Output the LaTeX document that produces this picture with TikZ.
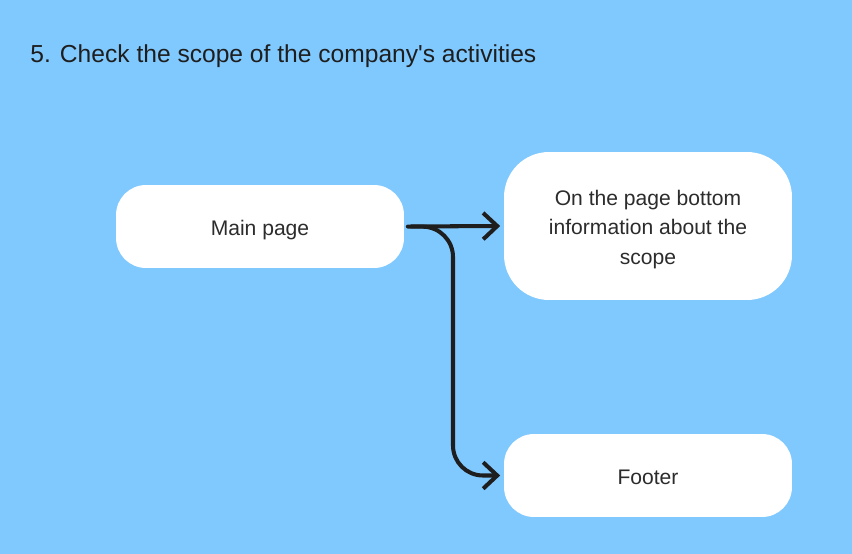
\documentclass[tikz,border=0pt]{standalone}
\usepackage{fontspec}
\setmainfont{Liberation Sans}
\usetikzlibrary{arrows.meta}
\definecolor{skycolor}{RGB}{128,201,255}
\definecolor{inkcolor}{RGB}{30,30,30}
\definecolor{textcolor}{RGB}{44,44,44}
\newcommand{\lowtext}[1]{\raisebox{-1.7pt}[\height][\depth]{\begin{tabular}{@{}c@{}}#1\end{tabular}}}
\tikzset{
  stepbox/.style={draw=none, fill=white, rounded corners=0.6cm, minimum width=5.76cm,
    minimum height=1.66cm, align=center, text=textcolor, font=\fontsize{12}{17}\selectfont},
  link/.style={line width=2.3pt, draw=inkcolor, line cap=round, line join=round,
    -{Straight Barb[length=8pt, width=15pt, line width=2.3pt]}}
}
\begin{document}
\begin{tikzpicture}[x=0.02cm, y=-0.02cm]
\fill[skycolor] (0,0) rectangle (852,554);
\useasboundingbox (0,0) rectangle (852,554);
\node[anchor=west, text=inkcolor, font=\fontsize{14}{17}\selectfont, inner sep=0pt] (title) at (30,56) {5. Check the scope of the company\textquotesingle s activities};
\node[stepbox] (main) at (260,226.5) {\lowtext{Main page}};
\node[stepbox, minimum height=2.96cm, rounded corners=0.9cm] (scope) at (648,226) {\lowtext{On the page bottom\\information about the\\scope}};
\node[stepbox] (footer) at (648,475.5) {\lowtext{Footer}};
\coordinate (bend) at (453,227);
\draw[link, shorten <=4pt, shorten >=2pt] (main.east) -- (scope.west);
\draw[link, rounded corners=0.6cm, shorten <=2pt, shorten >=2pt] (main.east) -- (bend) |- (footer.west);
\end{tikzpicture}
\end{document}
